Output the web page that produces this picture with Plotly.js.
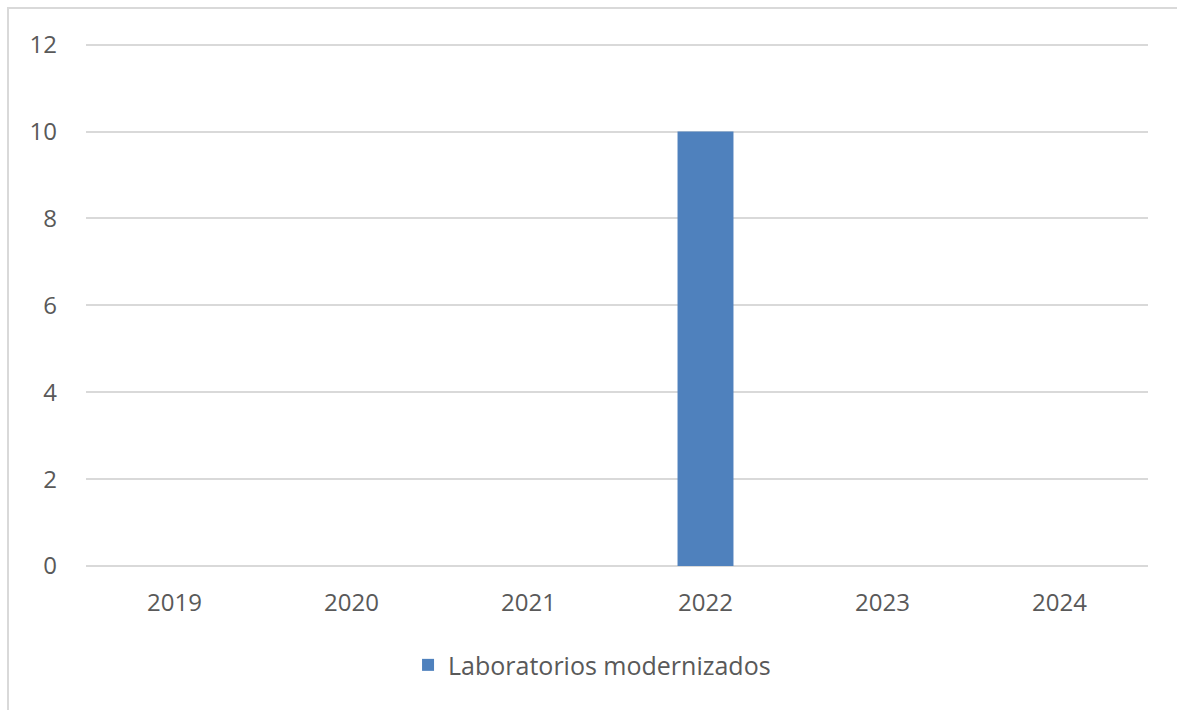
<!DOCTYPE html>
<html>
<head>
<meta charset="utf-8">
<script src="https://cdn.plot.ly/plotly-3.0.1.min.js"></script>
<style>
html,body{margin:0;padding:0;background:#fff;overflow:hidden;}
#frame{position:absolute;left:7px;top:7px;width:1300px;height:800px;border-left:2px solid #d9d9d9;border-top:2px solid #d9d9d9;}
#chart{position:absolute;left:0;top:0;width:1177px;height:710px;}
</style>
</head>
<body>
<div id="frame"></div>
<div id="chart"></div>
<script>
const years = ['2019','2020','2021','2022','2023','2024'];
const laboratorios = [0, 0, 0, 10, 0, 0];
const seriesName = 'Laboratorios modernizados';
const yTicks = [0, 2, 4, 6, 8, 10, 12];

Plotly.newPlot('chart', [{
  type: 'bar',
  x: years,
  y: laboratorios,
  name: seriesName,
  marker: {color: '#4f81bd'},
  showlegend: true
}], {
  width: 1177, height: 710,
  paper_bgcolor: 'rgba(0,0,0,0)', plot_bgcolor: 'rgba(0,0,0,0)',
  margin: {l: 86, r: 29, t: 36, b: 144},
  bargap: 0.684,
  font: {family: 'Open Sans, Noto Sans, sans-serif', size: 24, color: '#595959'},
  xaxis: {type: 'category', showgrid: false, zeroline: false, showline: false, ticks: '', ticklabelstandoff: 20, tickfont: {size: 24, color: '#595959'}},
  yaxis: {range: [0, 12.2], tickvals: yTicks, showgrid: true, gridcolor: '#d9d9d9', gridwidth: 1.5, zeroline: true, zerolinecolor: '#d9d9d9', zerolinewidth: 1.5, showline: false, ticks: '', ticklabelstandoff: 28, tickfont: {size: 24, color: '#595959'}},
  showlegend: true,
  legend: {orientation: 'h', x: 0.4765, xanchor: 'center', y: -0.187, yanchor: 'middle', font: {size: 25, color: '#595959'}}
}, {displayModeBar: false});
</script>
</body>
</html>
